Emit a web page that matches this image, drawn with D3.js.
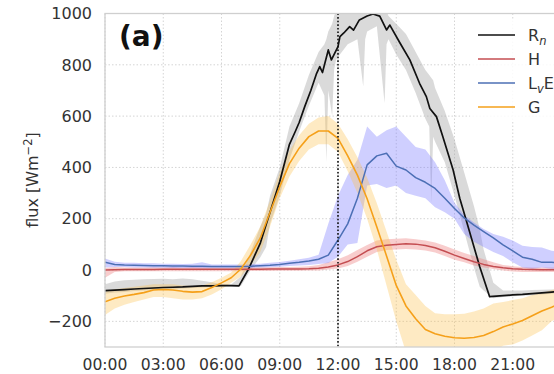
<!DOCTYPE html>
<html><head><meta charset="utf-8">
<script src="https://cdn.jsdelivr.net/npm/d3@7"></script>
<style>body{margin:0;background:#fff}svg{display:block}text{font-family:"DejaVu Sans",sans-serif}</style>
</head><body><svg id="c" width="554" height="374"></svg>
<script>
// ---- data ----
const hourGrid = [0,0.5,1,1.5,2,2.5,3,3.5,4,4.5,5,5.5,6,6.5,7,7.5,8,8.5,9,9.5,10,10.5,11,11.5,12,12.5,13,13.5,14,14.5,15,15.5,16,16.5,17,17.5,18,18.5,19,19.5,20,20.5,21,21.5,22,22.5,23,23.5,24];

const rnHours = [0,0.5,1,1.5,2,2.5,3,3.5,4,4.5,5,5.5,6,6.5,6.9,7.4,8,8.5,9,9.5,9.8,10,10.3,10.6,10.9,11.06,11.2,11.5,11.66,12,12.1,12.3,12.6,12.8,13.1,13.5,13.8,14.15,14.5,14.67,15.2,15.7,16.2,16.55,16.73,17.07,17.4,17.93,18.27,18.6,19.3,19.81,20.5,21,21.5,22,22.5,23,23.5,24];
const rnFlux  = [-80,-78,-76,-74,-72,-70,-68,-67,-66,-64,-62,-62,-61,-61,-62,5,105,225,345,490,540,575,640,700,767,793,770,858,819,871,910,924,949,935,975,990,998,990,936,955,884,819,728,676,630,598,520,390,280,195,13,-104,-100,-97,-95,-92,-89,-86,-84,-82];

const rnBandHours = [0,0.5,1,1.5,2,2.5,3,3.5,4,4.5,5,5.5,6,6.5,7,7.5,8,8.3,8.5,9,9.5,10,10.5,11,11.3,11.4,11.5,11.7,11.8,11.9,12,12.5,13,13.3,13.4,13.5,14,14.4,14.5,14.6,15,15.5,16,16.5,16.7,16.8,16.9,17,17.5,18,18.5,19,19.3,19.5,20,20.5,21,21.5,22,22.5,23,23.5,24];
const rnLow  = [-92,-88,-86,-82,-80,-78,-76,-74,-72,-70,-68,-66,-64,-64,-62,0,50,90,180,290,430,540,640,730,680,420,700,600,780,820,830,880,900,715,900,930,950,650,880,900,840,780,690,590,560,260,520,500,420,290,150,10,-65,-80,-110,-105,-102,-100,-98,-95,-92,-90,-88];
const rnHigh = [-55,-45,-40,-38,-36,-35,-34,-36,-33,-36,-42,-48,-55,-56,-25,70,170,220,290,400,560,650,760,850,880,900,930,960,990,1010,1010,1010,1010,1010,1010,1010,1010,1010,1010,990,960,920,850,780,760,750,740,710,620,510,380,250,160,80,-50,-80,-80,-80,-78,-77,-76,-74,-72];

const hFlux = [0,1,2,2,2,2,3,3,3,3,3,3,3,3,3,3,3,4,4,4,4,5,7,12,20,33,52,75,91,97,100,102,101,96,87,73,58,45,32,22,14,9,5,3,2,1,1,2,2];
const hLow  = [-30,-8,-5,-5,-5,-5,-5,-5,-5,-5,-5,-5,-5,-5,-5,-4,-4,-4,-3,-3,-3,-2,-2,2,6,16,32,52,70,78,80,82,80,76,68,55,40,30,18,10,4,-2,-6,-8,-8,-8,-8,-8,-8];
const hHigh = [8,12,10,10,10,11,10,12,10,12,11,10,10,10,10,10,11,11,12,12,13,15,20,30,42,58,78,98,115,120,122,124,120,115,107,95,80,66,55,42,30,20,15,12,10,10,10,10,10];

const leFlux = [30,22,20,19,18,17,17,16,16,15,15,14,14,14,14,15,17,19,22,26,30,35,42,58,117,180,280,410,445,455,405,390,360,342,318,280,240,203,175,150,125,98,75,50,42,30,30,28,26];
const leLow  = [10,12,12,10,10,9,9,8,8,8,7,7,7,7,7,8,10,11,13,16,18,20,24,27,52,100,105,330,335,320,330,300,290,280,245,225,200,140,110,90,70,55,30,10,5,10,5,5,5];
const leHigh = [45,32,28,28,26,26,25,25,24,25,30,22,22,22,22,23,25,28,31,36,42,48,60,180,290,370,430,560,520,545,560,520,480,470,420,350,262,215,185,160,140,130,115,95,90,88,75,70,65];

const gFlux = [-124,-110,-101,-95,-88,-78,-76,-78,-83,-86,-84,-68,-50,-30,4,58,125,225,325,415,475,520,542,542,513,445,370,278,168,55,-60,-140,-190,-232,-248,-258,-264,-266,-263,-255,-240,-222,-210,-197,-178,-160,-145,-128,-112];
const gLow  = [-175,-150,-135,-125,-115,-105,-105,-110,-115,-115,-110,-95,-75,-50,-25,20,70,170,280,365,425,470,490,490,460,385,300,200,80,-60,-200,-320,-320,-320,-320,-320,-320,-320,-320,-320,-320,-295,-290,-275,-255,-235,-200,-180,-160];
const gHigh = [-85,-75,-70,-65,-60,-55,-55,-55,-60,-62,-60,-48,-30,-10,35,100,170,270,380,465,525,570,595,600,570,510,440,360,260,150,40,-55,-97,-140,-168,-172,-172,-170,-162,-150,-130,-125,-117,-110,-97,-90,-78,-70,-60];

const yTicks = [-200,0,200,400,600,800,1000];
const xTicks = [0,3,6,9,12,15,18,21];
const xTickLabels = ["00:00","03:00","06:00","09:00","12:00","15:00","18:00","21:00"];
const markerHour = 12;

// ---- drawing ----
const svg = d3.select("#c");
const x = d3.scaleLinear().domain([0,24]).range([105,571]);
const y = d3.scaleLinear().domain([-300,1000]).range([347,13.5]);

svg.append("defs").append("clipPath").attr("id","clip")
  .append("rect").attr("x",105).attr("y",13.5).attr("width",466).attr("height",333.5);

// grid
const grid = svg.append("g").attr("stroke","#d4d4d4").attr("stroke-width",1).attr("stroke-dasharray","1.5,2");
grid.selectAll(".gy").data(yTicks).join("line").attr("x1",105).attr("x2",571).attr("y1",d=>y(d)).attr("y2",d=>y(d));
grid.selectAll(".gx").data(xTicks).join("line").attr("y1",13.5).attr("y2",347).attr("x1",d=>x(d)).attr("x2",d=>x(d));

const plot = svg.append("g").attr("clip-path","url(#clip)");

function band(hours, lo, hi, fill, op){
  const a = d3.area().x((d,i)=>x(hours[i])).y0((d,i)=>y(lo[i])).y1((d,i)=>y(hi[i]));
  plot.append("path").datum(hours).attr("d",a).attr("fill",fill).attr("fill-opacity",op).attr("stroke","none");
}
function line(hours, vals, color, w){
  const l = d3.line().x((d,i)=>x(hours[i])).y((d,i)=>y(vals[i]));
  plot.append("path").datum(hours).attr("d",l).attr("fill","none").attr("stroke",color).attr("stroke-width",w).attr("stroke-linejoin","round");
}

band(rnBandHours, rnLow, rnHigh, "#a8a8a8", 0.42);
band(hourGrid, hLow, hHigh, "#ee8888", 0.42);
band(hourGrid, leLow, leHigh, "#7a7aff", 0.36);
band(hourGrid, gLow, gHigh, "#fbc04a", 0.33);

line(rnHours, rnFlux, "#111111", 1.7);
line(hourGrid, hFlux, "#c44e52", 1.5);
line(hourGrid, leFlux, "#4c6fb5", 1.5);
line(hourGrid, gFlux, "#f5a01a", 1.6);

// marker line at 12:00
svg.append("line").attr("x1",x(markerHour)).attr("x2",x(markerHour)).attr("y1",13.5).attr("y2",347)
  .attr("stroke","#111").attr("stroke-width",1.6).attr("stroke-dasharray","1.6,2");

// frame
svg.append("rect").attr("x",105).attr("y",13.5).attr("width",466).attr("height",333.5)
  .attr("fill","none").attr("stroke","#cfcfcf").attr("stroke-width",1.3);

// ticks
svg.append("g").selectAll("text").data(yTicks).join("text")
  .attr("x",92).attr("y",d=>y(d)).attr("dy","0.36em").attr("text-anchor","end")
  .attr("font-size",16).attr("fill","#333").text(d=>d<0?"\u2212"+Math.abs(d):d);
svg.append("g").selectAll("text").data(xTicks).join("text")
  .attr("x",d=>x(d)).attr("y",370).attr("text-anchor","middle")
  .attr("font-size",15.6).attr("fill","#333").text((d,i)=>xTickLabels[i]);

// y label
const yl = svg.append("text").attr("transform","translate(38,180) rotate(-90)")
  .attr("text-anchor","middle").attr("font-size",16).attr("fill","#333");
yl.append("tspan").text("flux [Wm");
yl.append("tspan").attr("dy",-6).attr("font-size",11.5).text("\u22122");
yl.append("tspan").attr("dy",6).text("]");

// panel label
svg.append("text").attr("x",119).attr("y",46).attr("font-size",28).attr("font-weight","bold").attr("fill","#111").text("(a)");

// legend
const leg = svg.append("g");
leg.append("rect").attr("x",470).attr("y",20).attr("width",100).attr("height",100).attr("rx",3)
  .attr("fill","#fff").attr("fill-opacity",0.85);
const legItems = [
  {c:"#111111", parts:[["R",false],["n",true]]},
  {c:"#c44e52", parts:[["H",false]]},
  {c:"#4c6fb5", parts:[["L",false],["v",true],["E",false]]},
  {c:"#f5a01a", parts:[["G",false]]}
];
legItems.forEach((it,i)=>{
  const yy = 35 + i*24;
  leg.append("line").attr("x1",478).attr("x2",515).attr("y1",yy).attr("y2",yy).attr("stroke",it.c).attr("stroke-width",1.6);
  const t = leg.append("text").attr("x",528).attr("y",yy+6).attr("font-size",16).attr("fill","#333");
  let sub=false;
  it.parts.forEach(p=>{
    const ts = t.append("tspan").text(p[0]);
    if(p[1]){ ts.attr("font-size",11.5).attr("font-style","italic").attr("dy",4); sub=true; }
    else if(sub){ ts.attr("dy",-4); sub=false; }
  });
});
</script></body></html>
